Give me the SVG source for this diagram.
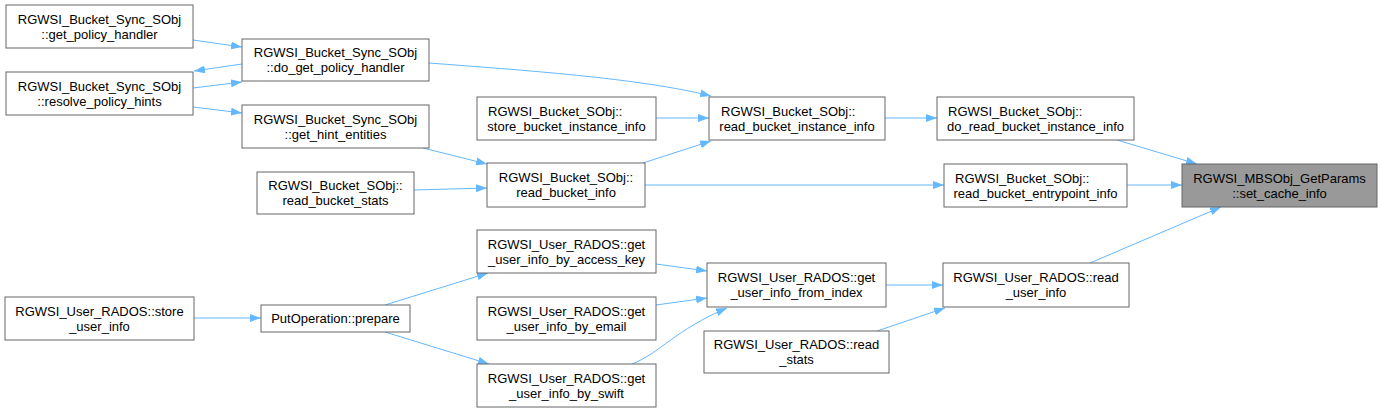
<svg xmlns="http://www.w3.org/2000/svg" width="1382" height="412" viewBox="0 0 1382 412">
<style>
.n rect{fill:#ffffff;stroke:#666666;stroke-width:1}
.n.hl rect{fill:#999999}
.n text{font-family:"Liberation Sans",Arial,sans-serif;font-size:13px;fill:#000000}
.m{text-anchor:middle}
.s{text-anchor:start}
.e path{fill:none;stroke:#63b8ff;stroke-width:1;marker-end:url(#ah)}
</style>
<defs>
<marker id="ah" viewBox="0 0 11 8" refX="11" refY="4" markerWidth="11" markerHeight="8" markerUnits="userSpaceOnUse" orient="auto">
<path d="M0,0 L11,4 L0,8 z" fill="#63b8ff" stroke="none"/>
</marker>
</defs>
<rect width="1382" height="412" fill="#ffffff"/>
<g id="edges" class="e">
<path d="M193,40 L242,47"/>
<path d="M242,64 L194,71"/>
<path d="M193,88 L242,82"/>
<path d="M193,107 L242,113"/>
<path d="M429,63 C520,70 640,78 711,96"/>
<path d="M656,118 L709,118"/>
<path d="M643,163 L711,141"/>
<path d="M423,148 L487,164"/>
<path d="M414,190 L487,188"/>
<path d="M885,118 L937,118"/>
<path d="M645,185 L944,185"/>
<path d="M1117,140 L1197,164"/>
<path d="M1127,185 L1182,185"/>
<path d="M1090,263 L1221,207"/>
<path d="M194,318 L261,318"/>
<path d="M385,305 L488,273"/>
<path d="M385,332 L489,364"/>
<path d="M656,264 L707,271"/>
<path d="M656,305 L707,298"/>
<path d="M632,364 C660,353 675,330 727,308"/>
<path d="M886,285 L943,285"/>
<path d="M877,331 L945,308"/>
</g>
<g id="n_get_policy_handler" class="n"><rect x="6" y="5" width="187" height="43"/><text class="m" x="99.5" y="23.5">RGWSI_Bucket_Sync_SObj</text><text class="m" x="99.5" y="38.5">::get_policy_handler</text></g>
<g id="n_do_get_policy_handler" class="n"><rect x="242" y="39" width="187" height="42"/><text class="m" x="335.5" y="57">RGWSI_Bucket_Sync_SObj</text><text class="m" x="335.5" y="72">::do_get_policy_handler</text></g>
<g id="n_resolve_policy_hints" class="n"><rect x="6" y="72" width="187" height="43"/><text class="m" x="99.5" y="90.5">RGWSI_Bucket_Sync_SObj</text><text class="m" x="99.5" y="105.5">::resolve_policy_hints</text></g>
<g id="n_get_hint_entities" class="n"><rect x="242" y="105" width="187" height="43"/><text class="m" x="335.5" y="123.5">RGWSI_Bucket_Sync_SObj</text><text class="m" x="335.5" y="138.5">::get_hint_entities</text></g>
<g id="n_read_bucket_stats" class="n"><rect x="257" y="172" width="157" height="42"/><text class="m" x="335.5" y="190">RGWSI_Bucket_SObj::</text><text class="m" x="335.5" y="205">read_bucket_stats</text></g>
<g id="n_store_bucket_instance_info" class="n"><rect x="477" y="97" width="179" height="43"/><text class="s" x="488" y="115.5">RGWSI_Bucket_SObj::</text><text class="m" x="566.5" y="130.5">store_bucket_instance_info</text></g>
<g id="n_read_bucket_instance_info" class="n"><rect x="709" y="97" width="176" height="43"/><text class="s" x="721" y="115.5">RGWSI_Bucket_SObj::</text><text class="m" x="797" y="130.5">read_bucket_instance_info</text></g>
<g id="n_read_bucket_info" class="n"><rect x="487" y="163" width="158" height="44"/><text class="m" x="566" y="182">RGWSI_Bucket_SObj::</text><text class="m" x="566" y="197">read_bucket_info</text></g>
<g id="n_do_read_bucket_instance_info" class="n"><rect x="937" y="97" width="197" height="43"/><text class="s" x="948" y="115.5">RGWSI_Bucket_SObj::</text><text class="m" x="1035.5" y="130.5">do_read_bucket_instance_info</text></g>
<g id="n_read_bucket_entrypoint_info" class="n"><rect x="944" y="164" width="183" height="43"/><text class="s" x="955" y="182.5">RGWSI_Bucket_SObj::</text><text class="m" x="1035.5" y="197.5">read_bucket_entrypoint_info</text></g>
<g id="n_set_cache_info" class="n hl"><rect x="1182" y="164" width="195" height="43"/><text class="m" x="1279.5" y="182.5">RGWSI_MBSObj_GetParams</text><text class="m" x="1279.5" y="197.5">::set_cache_info</text></g>
<g id="n_store_user_info" class="n"><rect x="5" y="297" width="189" height="43"/><text class="m" x="99.5" y="315.5">RGWSI_User_RADOS::store</text><text class="m" x="99.5" y="330.5">_user_info</text></g>
<g id="n_prepare" class="n"><rect x="261" y="305" width="149" height="27"/><text class="m" x="335.5" y="323">PutOperation::prepare</text></g>
<g id="n_get_user_info_by_access_key" class="n"><rect x="477" y="230" width="179" height="43"/><text class="m" x="566.5" y="248.5">RGWSI_User_RADOS::get</text><text class="m" x="566.5" y="263.5">_user_info_by_access_key</text></g>
<g id="n_get_user_info_by_email" class="n"><rect x="477" y="297" width="179" height="43"/><text class="m" x="566.5" y="315.5">RGWSI_User_RADOS::get</text><text class="m" x="566.5" y="330.5">_user_info_by_email</text></g>
<g id="n_get_user_info_by_swift" class="n"><rect x="477" y="364" width="179" height="43"/><text class="m" x="566.5" y="382.5">RGWSI_User_RADOS::get</text><text class="m" x="566.5" y="397.5">_user_info_by_swift</text></g>
<g id="n_get_user_info_from_index" class="n"><rect x="707" y="263" width="179" height="44"/><text class="m" x="796.5" y="282">RGWSI_User_RADOS::get</text><text class="m" x="796.5" y="297">_user_info_from_index</text></g>
<g id="n_read_stats" class="n"><rect x="704" y="331" width="185" height="42"/><text class="m" x="796.5" y="349">RGWSI_User_RADOS::read</text><text class="m" x="796.5" y="364">_stats</text></g>
<g id="n_read_user_info" class="n"><rect x="943" y="263" width="186" height="44"/><text class="m" x="1036" y="282">RGWSI_User_RADOS::read</text><text class="m" x="1036" y="297">_user_info</text></g>
</svg>
